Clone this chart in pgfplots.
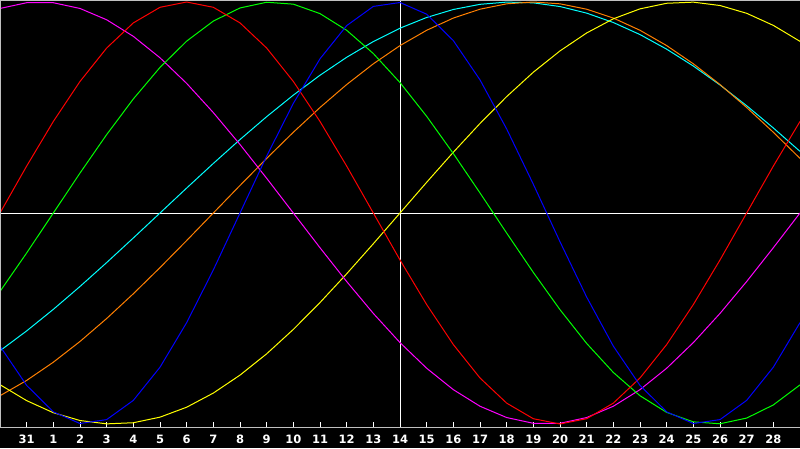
\documentclass[border=0pt]{standalone}
\usepackage{pgfplots}
\pgfplotsset{compat=1.18}
\usepackage{pgfplotstable}
\usepackage{fontspec}
\setmainfont{DejaVu Sans}
\definecolor{cRed}{RGB}{255,0,0}
\definecolor{cBlue}{RGB}{0,0,255}
\definecolor{cGreen}{RGB}{0,255,0}
\definecolor{cMag}{RGB}{255,0,255}
\definecolor{cYel}{RGB}{255,255,0}
\definecolor{cOrg}{RGB}{255,128,0}
\definecolor{cCyan}{RGB}{0,255,255}
\definecolor{cFrame}{RGB}{192,192,192}
\pgfplotstableread{
t   red     blue    green   mag     yel     org     cyan
-1  0       -0.6310 -0.3717 0.9694  -0.8136 -0.8660 -0.6529
0   0.2225  -0.8170 -0.1893 0.9966  -0.8892 -0.7934 -0.5587
1   0.4339  -0.9423 0       0.9966  -0.9465 -0.7071 -0.4566
2   0.6235  -0.9977 0.1893  0.9694  -0.9834 -0.6088 -0.3482
3   0.7818  -0.9791 0.3717  0.9158  -0.9993 -0.5    -0.2349
4   0.9010  -0.8880 0.5406  0.8372  -0.9940 -0.3827 -0.1183
5   0.9749  -0.7308 0.6901  0.7357  -0.9675 -0.2588 0
6   1       -0.5196 0.8146  0.6142  -0.9204 -0.1305 0.1183
7   0.9749  -0.2698 0.9096  0.4759  -0.8533 0       0.2349
8   0.9010  0       0.9718  0.3247  -0.7683 0.1305  0.3482
9   0.7818  0.2698  0.9989  0.1646  -0.6673 0.2588  0.4566
10  0.6235  0.5196  0.9898  0       -0.5517 0.3827  0.5587
11  0.4339  0.7308  0.9450  -0.1646 -0.4244 0.5     0.6529
12  0.2225  0.8880  0.8660  -0.3247 -0.2881 0.6088  0.7380
13  0       0.9791  0.7557  -0.4759 -0.1456 0.7071  0.8126
14  -0.2225 0.9977  0.6182  -0.6142 0       0.7934  0.8759
15  -0.4339 0.9423  0.4582  -0.7357 0.1456  0.8660  0.9267
16  -0.6235 0.8170  0.2817  -0.8372 0.2881  0.9239  0.9646
17  -0.7818 0.6310  0.0951  -0.9158 0.4244  0.9659  0.9890
18  -0.9010 0.3984  -0.0951 -0.9694 0.5517  0.9914  0.9996
19  -0.9749 0.1362  -0.2817 -0.9966 0.6673  1       0.9960
20  -1      -0.1362 -0.4582 -0.9966 0.7683  0.9914  0.9785
21  -0.9749 -0.3984 -0.6182 -0.9694 0.8533  0.9659  0.9473
22  -0.9010 -0.6310 -0.7557 -0.9158 0.9204  0.9239  0.9028
23  -0.7818 -0.8170 -0.8660 -0.8372 0.9675  0.8660  0.8457
24  -0.6235 -0.9423 -0.9450 -0.7357 0.9940  0.7934  0.7765
25  -0.4339 -0.9977 -0.9898 -0.6142 0.9993  0.7071  0.6965
26  -0.2225 -0.9791 -0.9989 -0.4759 0.9834  0.6088  0.6067
27  0       -0.8880 -0.9718 -0.3247 0.9465  0.5     0.5084
28  0.2225  -0.7308 -0.9096 -0.1646 0.8892  0.3827  0.4031
29  0.4339  -0.5196 -0.8146 0       0.8136  0.2588  0.2921
}\bio
\begin{document}
\begin{tikzpicture}
\fill[black] (0pt,0pt) rectangle (800pt,448pt);
\begin{axis}[
  at={(0pt,21pt)}, anchor=south west,
  width=800pt, height=427pt, scale only axis,
  xmin=-1, xmax=29, ymin=-1.0142, ymax=1.0095,
  axis line style={draw=none},
  ytick=\empty,
  xtick={0,...,28},
  xticklabels={31,1,2,3,4,5,6,7,8,9,10,11,12,13,14,15,16,17,18,19,20,21,22,23,24,25,26,27,28},
  xtick pos=bottom,
  tick align=inside,
  major tick length=5pt,
  tick style={white, line width=1pt},
  xticklabel style={font=\bfseries\fontsize{11.5}{13}\selectfont, text=white, anchor=north, inner sep=0pt, yshift=-7.5pt},
  every axis plot/.append style={line width=1pt, mark=none},
  clip=true,
]
\draw[white, line width=1pt] (axis cs:-1,0) -- (axis cs:29,0);
\draw[white, line width=1pt] (axis cs:14,-1.0142) -- (axis cs:14,1.0095);
\addplot[cCyan]  table[x=t, y=cyan] {\bio};
\addplot[cOrg]   table[x=t, y=org]  {\bio};
\addplot[cYel]   table[x=t, y=yel]  {\bio};
\addplot[cMag]   table[x=t, y=mag]  {\bio};
\addplot[cGreen] table[x=t, y=green]{\bio};
\addplot[cRed]   table[x=t, y=red]  {\bio};
\addplot[cBlue]  table[x=t, y=blue] {\bio};
\draw[cFrame, line width=1pt] (rel axis cs:0,0) -- (rel axis cs:0,1) -- (rel axis cs:1,1);
\draw[cFrame, line width=1pt] (rel axis cs:0,0) -- (rel axis cs:1,0);
\end{axis}
\end{tikzpicture}
\end{document}
